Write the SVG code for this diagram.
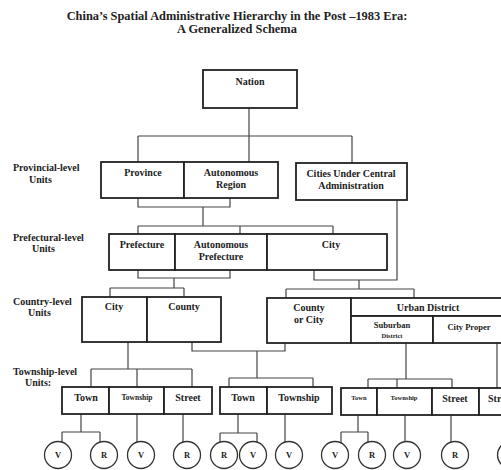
<svg xmlns="http://www.w3.org/2000/svg" width="501" height="470" viewBox="0 0 501 470">
<style>
.box{fill:#fff;stroke:#222;stroke-width:1.8}
.c{fill:none;stroke:#444;stroke-width:1.2}
.ci{fill:#fff;stroke:#333;stroke-width:1.3}
text{font-family:"Liberation Serif","Times New Roman",serif;font-weight:bold;fill:#222;text-anchor:middle}
.t{font-size:12.4px}
.lab{font-size:10px;text-anchor:start}
.n{font-size:10px}
.s{font-size:7.5px}
.xs{font-size:6.5px}
.cl{font-size:8.5px}
</style>
<rect width="501" height="470" fill="#fff"/>
<g id="title">
<text class="t" x="237" y="20">China’s Spatial Administrative Hierarchy in the Post –1983 Era:</text>
<text class="t" x="237" y="33">A Generalized Schema</text>
</g>
<g id="level-labels">
<text class="lab" x="13" y="171">Provincial-level</text>
<text class="lab" x="29" y="183">Units</text>
<text class="lab" x="13" y="241">Prefectural-level</text>
<text class="lab" x="32" y="252">Units</text>
<text class="lab" x="13" y="305">Country-level</text>
<text class="lab" x="28" y="316">Units</text>
<text class="lab" x="13" y="375">Township-level</text>
<text class="lab" x="25" y="386">Units:</text>
</g>
<g id="connectors">
<path class="c" d="M249,108V136M138,136H352M138,136V162M249,136V162M352,136V163"/>
<path class="c" d="M138,198V207H230V198M203,207V226M138,226H333M138,226V234M240,226V234M333,226V234"/>
<path class="c" d="M138,270V278H230V270M174,278V288M110,288H184M110,288V297M184,288V297"/>
<path class="c" d="M314,270V280H397V200M359,280V289M286,289H414M286,289V298M414,289V298"/>
<path class="c" d="M128,342V369M91,369H192M91,369V387M137,369V387M192,369V387"/>
<path class="c" d="M192,342V351H285V343M257,351V378M229,378H313M229,378V387M313,378V387"/>
<path class="c" d="M406,343V379M368,379H452M368,379V388M397,379V388M452,379V388M497,343V388"/>
<path class="c" d="M81,414V432M62,432H100M62,432V443M100,432V443M137,414V443M183,414V443"/>
<path class="c" d="M238,414V433M220,433H257M220,433V443M257,433V443M285,414V443"/>
<path class="c" d="M358,415V432M341,432H368M341,432V443M368,432V443M405,415V443M451,415V443"/>
</g>
<g id="nation"><rect class="box" x="203" y="70" width="94" height="38"/><text class="n" x="250" y="85">Nation</text></g>
<g id="province"><rect class="box" x="101" y="162" width="83" height="36"/><text class="n" x="143" y="176">Province</text></g>
<g id="autonomous-region"><rect class="box" x="184" y="162" width="94" height="36"/><text class="n" x="231" y="176">Autonomous</text><text class="n" x="231" y="188">Region</text></g>
<g id="cities-central"><rect class="box" x="296" y="163" width="111" height="37"/><text class="n" x="351" y="177">Cities Under Central</text><text class="n" x="351" y="189">Administration</text></g>
<g id="prefecture"><rect class="box" x="109" y="234" width="66" height="36"/><text class="n" x="142" y="248">Prefecture</text></g>
<g id="autonomous-prefecture"><rect class="box" x="175" y="234" width="92" height="36"/><text class="n" x="221" y="248">Autonomous</text><text class="n" x="221" y="260">Prefecture</text></g>
<g id="pref-city"><rect class="box" x="267" y="234" width="120" height="36"/><text class="n" x="331" y="248">City</text></g>
<g id="country-city"><rect class="box" x="82" y="297" width="65" height="45"/><text class="n" x="114" y="310">City</text></g>
<g id="county"><rect class="box" x="147" y="297" width="74" height="45"/><text class="n" x="184" y="310">County</text></g>
<g id="county-or-city"><rect class="box" x="267" y="298" width="84" height="45"/><text class="n" x="309" y="311">County</text><text class="n" x="309" y="323">or City</text></g>
<g id="urban-district"><rect class="box" x="351" y="298" width="152" height="18"/><text class="n" x="428" y="311">Urban District</text></g>
<g id="suburban-district"><rect class="box" x="351" y="316" width="82" height="27"/><text class="cl" x="392" y="328">Suburban</text><text class="xs" x="392" y="338">District</text></g>
<g id="city-proper"><rect class="box" x="433" y="316" width="70" height="27"/><text class="cl" x="469" y="330">City Proper</text></g>
<g id="town-1"><rect class="box" x="62" y="387" width="47" height="27"/><text class="n" x="86" y="401">Town</text></g>
<g id="township-1"><rect class="box" x="109" y="387" width="55" height="27"/><text class="s" x="137" y="400">Township</text></g>
<g id="street-1"><rect class="box" x="164" y="387" width="48" height="27"/><text class="n" x="188" y="401">Street</text></g>
<g id="town-2"><rect class="box" x="220" y="387" width="47" height="27"/><text class="n" x="243" y="401">Town</text></g>
<g id="township-2"><rect class="box" x="267" y="387" width="65" height="27"/><text class="n" x="299" y="401">Township</text></g>
<g id="town-3"><rect class="box" x="341" y="388" width="36" height="27"/><text class="xs" x="359" y="400">Town</text></g>
<g id="township-3"><rect class="box" x="377" y="388" width="55" height="27"/><text class="xs" x="404" y="400">Township</text></g>
<g id="street-3"><rect class="box" x="432" y="388" width="47" height="27"/><text class="n" x="455" y="402">Street</text></g>
<g id="street-4"><rect class="box" x="479" y="388" width="40" height="27"/><text class="n" x="488" y="402" style="text-anchor:start">Street</text></g>
<g id="v1"><circle class="ci" cx="58" cy="455" r="13.5"/><text class="cl" x="58" y="458">V</text></g>
<g id="r1"><circle class="ci" cx="104" cy="455" r="13.5"/><text class="cl" x="104" y="458">R</text></g>
<g id="v2"><circle class="ci" cx="141" cy="455" r="13.5"/><text class="cl" x="141" y="458">V</text></g>
<g id="r2"><circle class="ci" cx="187" cy="455" r="13.5"/><text class="cl" x="187" y="458">R</text></g>
<g id="r3"><circle class="ci" cx="224" cy="455" r="13.5"/><text class="cl" x="224" y="458">R</text></g>
<g id="v3"><circle class="ci" cx="253" cy="455" r="13.5"/><text class="cl" x="253" y="458">V</text></g>
<g id="v4"><circle class="ci" cx="289" cy="455" r="13.5"/><text class="cl" x="289" y="458">V</text></g>
<g id="v5"><circle class="ci" cx="335" cy="455" r="13.5"/><text class="cl" x="335" y="458">V</text></g>
<g id="r4"><circle class="ci" cx="372" cy="455" r="13.5"/><text class="cl" x="372" y="458">R</text></g>
<g id="v6"><circle class="ci" cx="407" cy="455" r="13.5"/><text class="cl" x="407" y="458">V</text></g>
<g id="r5"><circle class="ci" cx="455" cy="455" r="13.5"/><text class="cl" x="455" y="458">R</text></g>
<g id="c-edge"><circle class="ci" cx="511" cy="455" r="13.5"/></g>
</svg>
